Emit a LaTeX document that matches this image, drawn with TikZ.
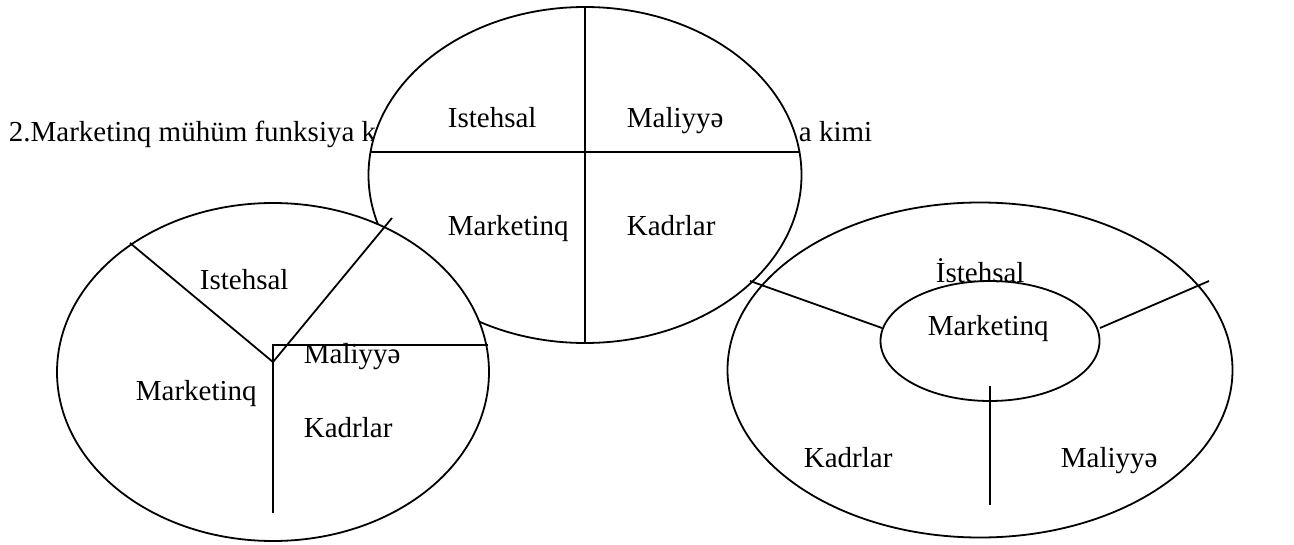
\documentclass[tikz,border=0pt]{standalone}
\usepackage{fontspec}
\setmainfont{Liberation Serif}
\usetikzlibrary{shapes.geometric}

\begin{document}
\begin{tikzpicture}[x=0.5pt, y=-0.5pt, line width=0.9pt,
    oval/.style={ellipse, draw, fill=white, inner sep=0pt, outer sep=0pt},
    lbl/.style={anchor=base west, inner sep=0pt, font=\fontsize{14.5}{17}\selectfont}]
  \useasboundingbox (0,0) rectangle (1294,545);
  % page text, partly hidden by the top oval
  \node[lbl] (txtA) at (8,142) {2.Marketinq mühüm funksiya k};
  \node[lbl] (txtB) at (798,142) {a kimi};

  % top oval: four parts
  \node[oval, minimum width=216.5pt, minimum height=168pt] (top) at (585,175) {};
  \coordinate (topW) at (370,152);
  \coordinate (topE) at (800,152);
  \draw (top.north) -- (top.south);
  \draw (topW) -- (topE);
  \node[lbl] (topIst) at (447,128) {Istehsal};
  \node[lbl] (topMal) at (626,128) {Maliyyə};
  \node[lbl] (topMar) at (447,235) {Marketinq};
  \node[lbl] (topKad) at (626,235) {Kadrlar};

  % left oval: pie with a hub
  \node[oval, minimum width=216pt, minimum height=169pt] (left) at (273,372) {};
  \coordinate (lHub) at (273,362);
  \coordinate (lNW) at (130,243);
  \coordinate (lNE) at (392,218);
  \coordinate (lCorner) at (273,345);
  \coordinate (lE) at (488,345);
  \coordinate (lS) at (273,513);
  \draw (lNW) -- (lHub) -- (lNE);
  \draw (lE) -- (lCorner) -- (lS);
  \node[lbl] (lIst) at (199,289) {Istehsal};
  \node[lbl] (lMar) at (135,400) {Marketinq};
  \node[lbl] (lMal) at (303,363) {Maliyyə};
  \node[lbl] (lKad) at (303,437) {Kadrlar};

  % right oval: marketing in the core
  \node[oval, minimum width=252.5pt, minimum height=167.5pt] (right) at (980,370) {};
  \node[oval, minimum width=109.5pt, minimum height=60pt] (core) at (990,341) {};
  \coordinate (rNW) at (750,281);
  \coordinate (rW) at (882,328);
  \coordinate (rE) at (1100,328);
  \coordinate (rNE) at (1209,281);
  \coordinate (rTop) at (990,386);
  \coordinate (rS) at (990,505);
  \draw (rNW) -- (rW);
  \draw (rE) -- (rNE);
  \draw (rTop) -- (rS);
  \node[lbl] (rIst) at (935,282) {İstehsal};
  \node[lbl] (rMar) at (927,335) {Marketinq};
  \node[lbl] (rKad) at (803,467) {Kadrlar};
  \node[lbl] (rMal) at (1060,467) {Maliyyə};
\end{tikzpicture}
\end{document}
